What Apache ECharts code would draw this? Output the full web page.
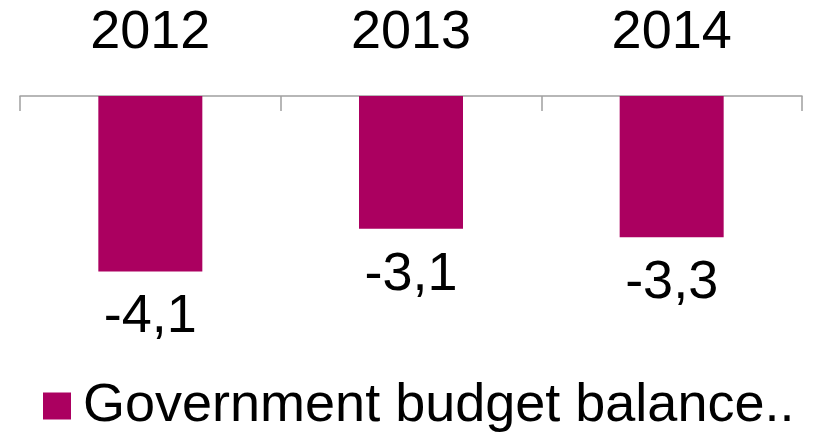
<!DOCTYPE html>
<html><head><meta charset="utf-8">
<script src="https://cdn.jsdelivr.net/npm/echarts@6/dist/echarts.min.js"></script>
<style>html,body{margin:0;padding:0;background:#fff}#c{width:813px;height:434px}</style>
</head><body><div id="c"></div>
<script>
const categories = ['2012', '2013', '2014'];
const budgetBalance = [-4.1, -3.1, -3.3];
const seriesName = 'Government budget balance..';

const chart = echarts.init(document.getElementById('c'));
const font = '"Liberation Sans", Arial, sans-serif';
chart.setOption({
  animation: false,
  backgroundColor: '#fff',
  grid: { left: 20, right: 11, top: 96, height: 214 },
  xAxis: {
    type: 'category', position: 'top', data: categories,
    axisLine: { show: true, lineStyle: { color: '#a0a0a0', width: 1.5 } },
    axisTick: { show: true, inside: true, length: 15, alignWithLabel: false, lineStyle: { color: '#a0a0a0', width: 1.5 } },
    axisLabel: { fontSize: 54, color: '#000', fontFamily: font, margin: 36 },
    splitLine: { show: false }
  },
  yAxis: { type: 'value', min: -5, max: 0, show: false, splitLine: { show: false } },
  legend: {
    left: 38, top: 374, icon: 'rect', itemWidth: 28, itemHeight: 27,
    textStyle: { fontSize: 54, color: '#000', fontFamily: font, padding: [0, 0, 0, 7] },
    data: [seriesName]
  },
  series: [{
    name: seriesName, type: 'bar', data: budgetBalance, barWidth: 104,
    itemStyle: { color: '#ab0060' },
    label: {
      show: true, position: 'bottom', distance: 19, fontSize: 54, color: '#000', fontFamily: font,
      formatter: p => String(p.value).replace('.', ',')
    }
  }]
});
</script></body></html>
